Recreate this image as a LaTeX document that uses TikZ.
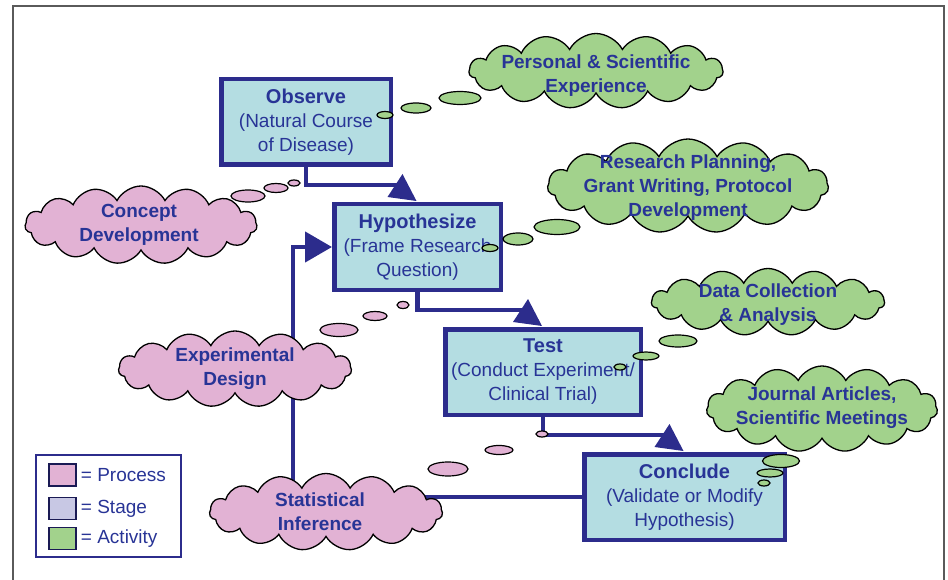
\documentclass[tikz,border=0pt]{standalone}
\usepackage{fontspec}
\setmainfont{Liberation Sans}
\usepackage[svgnames]{xcolor}
\usepackage{tikz}
\usetikzlibrary{positioning,shapes.symbols,arrows.meta,calc}
\definecolor{navyline}{RGB}{44,44,140}
\definecolor{navytext}{RGB}{40,52,150}
\definecolor{stagefill}{RGB}{180,221,226}
\definecolor{processfill}{RGB}{226,178,212}
\definecolor{activityfill}{RGB}{162,210,140}
\definecolor{stagekey}{RGB}{200,200,228}
\definecolor{framegray}{RGB}{90,90,90}
\newcommand{\stagetitle}[1]{{\fontsize{20}{24}\selectfont\bfseries #1}}

\begin{document}
\begin{tikzpicture}[x=1pt, y=-1pt,
    stagenode/.style={rectangle, draw=navyline, fill=stagefill, line width=4.5pt, minimum height=85.5pt, inner sep=0pt, align=center, text=navytext, font=\fontsize{19}{24}\selectfont},
    cloudtext/.style={align=center, text=navytext, font=\fontsize{19}{24}\selectfont\bfseries},
    processcloud/.style={cloud, cloud puffs=15, cloud puff arc=125, cloud ignores aspect, draw=black, line width=1.3pt, fill=processfill, inner sep=0pt},
    activitycloud/.style={processcloud, fill=activityfill},
    bubble/.style={draw=black, line width=1.2pt},
    flow/.style={draw=navyline, line width=4.5pt},
    keybox/.style={rectangle, draw=navyline!60!black, line width=1.5pt, minimum width=27pt, minimum height=22pt},
    keytext/.style={text=navytext, font=\fontsize{19}{22}\selectfont, inner sep=1pt},
    skewhead/.pic={\fill[navyline] (3,-11) -- (-12,12) -- (17,16) -- cycle;},
    ]
    \useasboundingbox (0,0) rectangle (948,580);
    \draw[framegray, line width=1.6pt] (13,580) -- (13,6) -- (944,6) -- (944,580);

    %Stages
    \node[stagenode, minimum width=169.5pt] (observe)     at (306,122)   {\stagetitle{Observe}\\(Natural Course\\of Disease)};
    \node[stagenode, minimum width=166.5pt] (hypothesize) at (417.5,247) {\stagetitle{Hypothesize}\\(Frame Research\\Question)};
    \node[stagenode, minimum width=195.5pt] (test)        at (543,372)   {\stagetitle{Test}\\(Conduct Experiment/\\Clinical Trial)};
    \node[stagenode, minimum width=200.5pt] (conclude)    at (684.5,497) {\stagetitle{Conclude}\\(Validate or Modify\\Hypothesis)};

    %Lines
    \coordinate (h1) at ($(hypothesize.north)+(-18,-17)$);
    \coordinate (h2) at ($(test.north)+(-18,-17)$);
    \coordinate (h3) at ($(conclude.north)+(-18,-17)$);
    \coordinate (back) at (293,370);
    \draw[flow] (observe.south) |- (h1);
    \draw[flow] (hypothesize.south) |- (h2);
    \draw[flow] (test.south) |- (h3);
    \pic at (h1) {skewhead};
    \pic at (h2) {skewhead};
    \pic at (h3) {skewhead};
    \draw[flow, -{Triangle[width=30pt, length=27pt]}] (conclude.west) -| (back) |- (hypothesize.west);

    %Clouds
    \node[activitycloud, minimum width=254pt, minimum height=75pt, label={[cloudtext, yshift=-5pt]center:Personal \& Scientific\\Experience}] (experience) at (596,71) {};
    \node[activitycloud, minimum width=281pt, minimum height=94pt, label={[cloudtext, yshift=-2pt]center:Research Planning,\\Grant Writing, Protocol\\Development}] (planning) at (688,186) {};
    \node[activitycloud, minimum width=233pt, minimum height=67pt, label={[cloudtext, yshift=-3pt]center:Data Collection\\\& Analysis}] (collection) at (768,302) {};
    \node[activitycloud, minimum width=231pt, minimum height=86pt, label={[cloudtext, yshift=1pt]center:Journal Articles,\\Scientific Meetings}] (articles) at (822,409) {};
    \node[processcloud, minimum width=232pt, minimum height=78pt, label={[cloudtext, xshift=-2pt]center:Concept\\Development}] (concept) at (141,225) {};
    \node[processcloud, minimum width=233pt, minimum height=76pt, label={[cloudtext]center:Experimental\\Design}] (design) at (235,369) {};
    \node[processcloud, minimum width=233pt, minimum height=77pt, label={[cloudtext, xshift=-6pt]center:Statistical\\Inference}] (inference) at (326,512) {};

    %Bubbles
    \draw[bubble, fill=activityfill] (385,115) ellipse [x radius=8, y radius=3.5];
    \draw[bubble, fill=activityfill] (416,108) ellipse [x radius=15, y radius=5];
    \draw[bubble, fill=activityfill] (460,98)  ellipse [x radius=21, y radius=6.5];
    \draw[bubble, fill=processfill]  (294,183) ellipse [x radius=6, y radius=3];
    \draw[bubble, fill=processfill]  (276,188) ellipse [x radius=12, y radius=4.5];
    \draw[bubble, fill=processfill]  (248,196) ellipse [x radius=17, y radius=6];
    \draw[bubble, fill=activityfill] (490,248) ellipse [x radius=8, y radius=3.5];
    \draw[bubble, fill=activityfill] (518,239) ellipse [x radius=15, y radius=6];
    \draw[bubble, fill=activityfill] (557,227) ellipse [x radius=23, y radius=7.5];
    \draw[bubble, fill=processfill]  (403,305) ellipse [x radius=6, y radius=3.5];
    \draw[bubble, fill=processfill]  (375,316) ellipse [x radius=12, y radius=4.5];
    \draw[bubble, fill=processfill]  (339,330) ellipse [x radius=19, y radius=6.5];
    \draw[bubble, fill=activityfill] (620,367) ellipse [x radius=6, y radius=3];
    \draw[bubble, fill=activityfill] (646,356) ellipse [x radius=13, y radius=4];
    \draw[bubble, fill=activityfill] (678,341) ellipse [x radius=19, y radius=6];
    \draw[bubble, fill=processfill]  (542,434) ellipse [x radius=6, y radius=3];
    \draw[bubble, fill=processfill]  (499,450) ellipse [x radius=14, y radius=4.5];
    \draw[bubble, fill=processfill]  (448,469) ellipse [x radius=20, y radius=7];
    \draw[bubble, fill=activityfill] (764,483) ellipse [x radius=6, y radius=3];
    \draw[bubble, fill=activityfill] (770,473) ellipse [x radius=13, y radius=4];
    \draw[bubble, fill=activityfill] (781,461) ellipse [x radius=18.5, y radius=6.5];

    %Legend
    \node[draw=navyline, line width=1.8pt, minimum width=145pt, minimum height=102pt] (legend) at (108.5,506) {};
    \node[keybox, fill=processfill]  (keyprocess)  at (62.5,475) {};
    \node[keybox, fill=stagekey]     (keystage)    at (62.5,508.5) {};
    \node[keybox, fill=activityfill] (keyactivity) at (62.5,538.5) {};
    \node[keytext, right=3pt of keyprocess]  (labprocess)  {= Process};
    \node[keytext, right=3pt of keystage]    (labstage)    {= Stage};
    \node[keytext, right=3pt of keyactivity] (labactivity) {= Activity};
\end{tikzpicture}
\end{document}
